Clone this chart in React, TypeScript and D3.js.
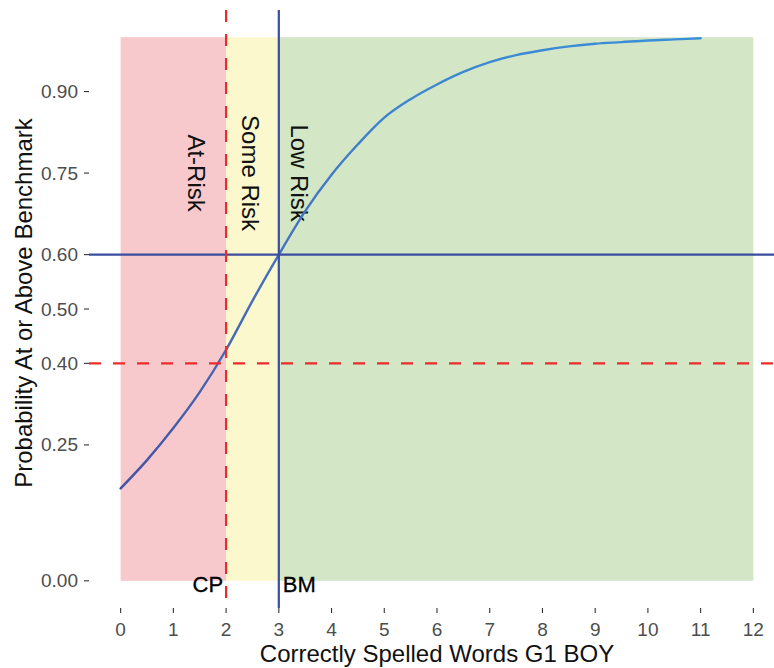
import React from "react";
import * as d3 from "d3";

const xs = [0, 0.5, 1, 1.5, 2, 2.5, 3, 3.5, 4, 4.5, 5, 5.5, 6, 6.5, 7, 7.5, 8, 8.5, 9, 9.5, 10, 10.5, 11];
const probs = [0.170, 0.222, 0.281, 0.347, 0.425, 0.515, 0.600, 0.680, 0.747, 0.803, 0.852, 0.886, 0.913, 0.936, 0.954, 0.967, 0.976, 0.983, 0.988, 0.991, 0.994, 0.996, 0.998];
const xTicks = [0, 1, 2, 3, 4, 5, 6, 7, 8, 9, 10, 11, 12];
const yTicks = [0, 0.25, 0.4, 0.5, 0.6, 0.75, 0.9];
const zones = [
  { from: 0, to: 2, color: "#f8c9cc", label: "At-Risk", lx: 1.43 },
  { from: 2, to: 3, color: "#fbf8cd", label: "Some Risk", lx: 2.47 },
  { from: 3, to: 12, color: "#d3e6c6", label: "Low Risk", lx: 3.4 },
];
const cutPoint = 2;
const benchmark = 3;
const cutProb = 0.4;
const benchProb = 0.6;

const W = 774, H = 668;
const panel = { left: 89, right: 785, top: 10, bottom: 608 };

export default function App() {
  const x = d3.scaleLinear().domain([-0.6, 12.6]).range([panel.left, panel.right]);
  const y = d3.scaleLinear().domain([-0.05, 1.05]).range([panel.bottom, panel.top]);
  const pts = xs.map((v, i) => [v, probs[i]] as [number, number]);
  const line = d3.line<[number, number]>().x(d => x(d[0])).y(d => y(d[1])).curve(d3.curveMonotoneX);
  const font = "Liberation Sans, Arial, sans-serif";
  return (
    <svg width={W} height={H} style={{ position: "absolute", left: 0, top: 0 }} fontFamily={font}>
      <defs>
        <linearGradient id="curveGrad" gradientUnits="userSpaceOnUse" x1={x(0)} x2={x(11)} y1={0} y2={0}>
          <stop offset="0" stopColor="#4450a2" />
          <stop offset="0.25" stopColor="#4470bd" />
          <stop offset="0.5" stopColor="#3d86d2" />
          <stop offset="1" stopColor="#3a8fd8" />
        </linearGradient>
      </defs>
      {zones.map(z => (
        <rect key={z.label} x={x(z.from)} y={y(1)} width={x(z.to) - x(z.from)} height={y(0) - y(1)} fill={z.color} />
      ))}
      {zones.map(z => (
        <text key={"l" + z.label} transform={`translate(${x(z.lx)},${y(0.75)}) rotate(90)`} textAnchor="middle" dominantBaseline="central" fontSize={24} fill="#111">{z.label}</text>
      ))}
      <path d={line(pts) || ""} stroke="url(#curveGrad)" strokeWidth={2.4} fill="none" strokeLinecap="round" />
      <line x1={panel.left} x2={panel.right} y1={y(benchProb)} y2={y(benchProb)} stroke="#3a4da0" strokeWidth={2.2} />
      <line x1={panel.left} x2={panel.right} y1={y(cutProb)} y2={y(cutProb)} stroke="#ee2b2b" strokeWidth={2.2} strokeDasharray="12,12" />
      <line x1={x(benchmark)} x2={x(benchmark)} y1={panel.top} y2={panel.bottom} stroke="#3a4da0" strokeWidth={2.2} />
      <line x1={x(cutPoint)} x2={x(cutPoint)} y1={panel.top} y2={panel.bottom} stroke="#ee2b2b" strokeWidth={2.2} strokeDasharray="12,12" />
      <text x={x(cutPoint) - 3} y={y(0) + 11} textAnchor="end" fontSize={22} fill="#000" stroke="#000" strokeWidth={0.3}>CP</text>
      <text x={x(benchmark) + 4} y={y(0) + 11} textAnchor="start" fontSize={22} fill="#000" stroke="#000" strokeWidth={0.3}>BM</text>
      {yTicks.map(t => (
        <g key={"y" + t}>
          <line x1={panel.left - 5} x2={panel.left} y1={y(t)} y2={y(t)} stroke="#333" strokeWidth={1.1} />
          <text x={panel.left - 11} y={y(t)} textAnchor="end" dominantBaseline="central" fontSize={19} fill="#4d4d4d">{t.toFixed(2)}</text>
        </g>
      ))}
      {xTicks.map(t => (
        <g key={"x" + t}>
          <line x1={x(t)} x2={x(t)} y1={panel.bottom} y2={panel.bottom + 5} stroke="#333" strokeWidth={1.1} />
          <text x={x(t)} y={panel.bottom + 21} textAnchor="middle" dominantBaseline="central" fontSize={19} fill="#4d4d4d">{t}</text>
        </g>
      ))}
      <text x={(x(0) + x(12)) / 2} y={662} textAnchor="middle" fontSize={24} fill="#111">Correctly Spelled Words G1 BOY</text>
      <text transform={`translate(32,${(panel.top + panel.bottom) / 2 - 6}) rotate(-90)`} textAnchor="middle" fontSize={24} fill="#111">Probability At or Above Benchmark</text>
    </svg>
  );
}
